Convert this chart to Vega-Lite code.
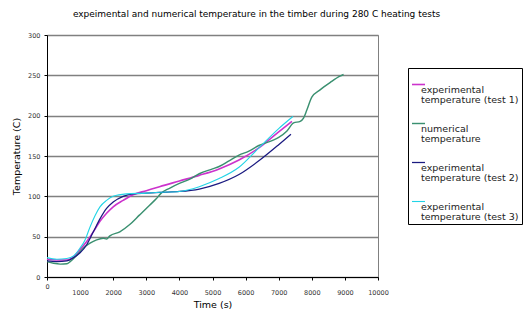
{
  "$schema": "https://vega.github.io/schema/vega-lite/v6.json",
  "width": 331,
  "height": 242,
  "autosize": {"type": "none"},
  "padding": {"left": 47, "top": 35, "right": 153, "bottom": 34},
  "background": "white",
  "title": {
    "text": "expeimental and numerical temperature in the timber during 280 C heating tests",
    "font": "DejaVu Sans",
    "fontSize": 9,
    "fontWeight": "normal",
    "color": "black",
    "anchor": "middle",
    "frame": "group",
    "dx": 44,
    "offset": 13
  },
  "data": {
    "values": [
      {"s": "test 1", "t": 0, "T": 22}, {"s": "test 1", "t": 300, "T": 21}, {"s": "test 1", "t": 600, "T": 21},
      {"s": "test 1", "t": 800, "T": 25}, {"s": "test 1", "t": 1000, "T": 34}, {"s": "test 1", "t": 1200, "T": 44},
      {"s": "test 1", "t": 1400, "T": 56}, {"s": "test 1", "t": 1600, "T": 69}, {"s": "test 1", "t": 1800, "T": 79},
      {"s": "test 1", "t": 2000, "T": 87}, {"s": "test 1", "t": 2300, "T": 95}, {"s": "test 1", "t": 2600, "T": 102},
      {"s": "test 1", "t": 3000, "T": 107}, {"s": "test 1", "t": 3400, "T": 112}, {"s": "test 1", "t": 4000, "T": 119},
      {"s": "test 1", "t": 4600, "T": 126}, {"s": "test 1", "t": 5200, "T": 134}, {"s": "test 1", "t": 5800, "T": 145},
      {"s": "test 1", "t": 6400, "T": 160}, {"s": "test 1", "t": 7000, "T": 180}, {"s": "test 1", "t": 7400, "T": 193},

      {"s": "numerical", "t": 0, "T": 19}, {"s": "numerical", "t": 200, "T": 17}, {"s": "numerical", "t": 400, "T": 16},
      {"s": "numerical", "t": 600, "T": 16.5}, {"s": "numerical", "t": 700, "T": 19}, {"s": "numerical", "t": 900, "T": 27},
      {"s": "numerical", "t": 1100, "T": 36}, {"s": "numerical", "t": 1300, "T": 42}, {"s": "numerical", "t": 1500, "T": 46},
      {"s": "numerical", "t": 1700, "T": 48}, {"s": "numerical", "t": 1800, "T": 47}, {"s": "numerical", "t": 1900, "T": 51},
      {"s": "numerical", "t": 2200, "T": 56}, {"s": "numerical", "t": 2500, "T": 65}, {"s": "numerical", "t": 2800, "T": 77},
      {"s": "numerical", "t": 3100, "T": 89}, {"s": "numerical", "t": 3300, "T": 97}, {"s": "numerical", "t": 3450, "T": 104},
      {"s": "numerical", "t": 3700, "T": 110}, {"s": "numerical", "t": 4000, "T": 116}, {"s": "numerical", "t": 4300, "T": 121},
      {"s": "numerical", "t": 4600, "T": 128}, {"s": "numerical", "t": 5000, "T": 134}, {"s": "numerical", "t": 5200, "T": 137},
      {"s": "numerical", "t": 5500, "T": 144}, {"s": "numerical", "t": 5800, "T": 151}, {"s": "numerical", "t": 6100, "T": 156},
      {"s": "numerical", "t": 6400, "T": 163}, {"s": "numerical", "t": 6800, "T": 169}, {"s": "numerical", "t": 7000, "T": 173},
      {"s": "numerical", "t": 7250, "T": 181}, {"s": "numerical", "t": 7450, "T": 191}, {"s": "numerical", "t": 7650, "T": 193},
      {"s": "numerical", "t": 7750, "T": 197}, {"s": "numerical", "t": 7850, "T": 207}, {"s": "numerical", "t": 8000, "T": 223},
      {"s": "numerical", "t": 8250, "T": 232}, {"s": "numerical", "t": 8550, "T": 241}, {"s": "numerical", "t": 8850, "T": 249},
      {"s": "numerical", "t": 8960, "T": 251},

      {"s": "test 2", "t": 0, "T": 20}, {"s": "test 2", "t": 300, "T": 19}, {"s": "test 2", "t": 600, "T": 20},
      {"s": "test 2", "t": 800, "T": 24}, {"s": "test 2", "t": 1000, "T": 30}, {"s": "test 2", "t": 1200, "T": 40},
      {"s": "test 2", "t": 1400, "T": 56}, {"s": "test 2", "t": 1600, "T": 72}, {"s": "test 2", "t": 1800, "T": 85},
      {"s": "test 2", "t": 2000, "T": 93}, {"s": "test 2", "t": 2300, "T": 100}, {"s": "test 2", "t": 2600, "T": 103},
      {"s": "test 2", "t": 3000, "T": 104}, {"s": "test 2", "t": 3400, "T": 105}, {"s": "test 2", "t": 4000, "T": 106},
      {"s": "test 2", "t": 4600, "T": 109}, {"s": "test 2", "t": 5200, "T": 116}, {"s": "test 2", "t": 5800, "T": 127},
      {"s": "test 2", "t": 6400, "T": 144}, {"s": "test 2", "t": 7000, "T": 164}, {"s": "test 2", "t": 7370, "T": 177},

      {"s": "test 3", "t": 0, "T": 24}, {"s": "test 3", "t": 300, "T": 22}, {"s": "test 3", "t": 600, "T": 23},
      {"s": "test 3", "t": 800, "T": 26}, {"s": "test 3", "t": 1000, "T": 36}, {"s": "test 3", "t": 1150, "T": 46},
      {"s": "test 3", "t": 1300, "T": 62}, {"s": "test 3", "t": 1450, "T": 76}, {"s": "test 3", "t": 1600, "T": 87},
      {"s": "test 3", "t": 1800, "T": 95}, {"s": "test 3", "t": 2000, "T": 100}, {"s": "test 3", "t": 2400, "T": 103},
      {"s": "test 3", "t": 3000, "T": 104}, {"s": "test 3", "t": 3400, "T": 105}, {"s": "test 3", "t": 4000, "T": 106},
      {"s": "test 3", "t": 4600, "T": 112}, {"s": "test 3", "t": 5200, "T": 122}, {"s": "test 3", "t": 5800, "T": 136},
      {"s": "test 3", "t": 6400, "T": 160}, {"s": "test 3", "t": 7000, "T": 184}, {"s": "test 3", "t": 7430, "T": 199}
    ]
  },
  "mark": {"type": "line", "interpolate": "monotone"},
  "encoding": {
    "x": {
      "field": "t", "type": "quantitative",
      "scale": {"domain": [0, 10000], "nice": false},
      "axis": {
        "title": "Time (s)",
        "values": [0, 1000, 2000, 3000, 4000, 5000, 6000, 7000, 8000, 9000, 10000],
        "format": "d",
        "grid": false,
        "labelExpr": "datum.value == 0 ? '0' : ['', datum.label]",
        "labelLineHeight": 6,
        "labelBaseline": "top",
        "labelPadding": 3,
        "labelFlush": false,
        "titlePadding": 4
      }
    },
    "y": {
      "field": "T", "type": "quantitative",
      "scale": {"domain": [0, 300], "nice": false},
      "axis": {
        "title": "Temperature (C)",
        "values": [0, 50, 100, 150, 200, 250, 300],
        "grid": true,
        "gridColor": "#808080",
        "gridWidth": 1.5,
        "labelPadding": 4,
        "titlePadding": 6
      }
    },
    "color": {
      "field": "s", "type": "nominal",
      "scale": {
        "domain": ["test 1", "numerical", "test 2", "test 3"],
        "range": ["#cc33cc", "#3a9070", "#1a1a80", "#22d4e6"]
      },
      "legend": {
        "orient": "none",
        "legendX": 361,
        "legendY": 33,
        "title": "\u00a0",
        "titleFontSize": 1,
        "titlePadding": 5,
        "symbolType": "stroke",
        "symbolSize": 169,
        "symbolStrokeWidth": 1.5,
        "labelFont": "DejaVu Sans",
        "labelFontSize": 9.5,
        "labelColor": "#222",
        "labelBaseline": "top",
        "labelOffset": -5,
        "labelLimit": 200,
        "labelExpr": "datum.label == 'numerical' ? ['numerical', 'temperature'] : ['experimental', 'temperature (' + datum.label + ')']",
        "strokeColor": "black",
        "padding": 3,
        "rowPadding": 12
      }
    },
    "strokeWidth": {
      "field": "s", "type": "nominal",
      "scale": {"domain": ["test 1", "numerical", "test 2", "test 3"], "range": [1.6, 1.1, 1.6, 1.6]},
      "legend": null
    }
  },
  "config": {
    "view": {"stroke": "#808080", "strokeWidth": 1},
    "style": {"guide-label": {"lineHeight": 10}},
    "axis": {
      "domainColor": "black",
      "domainWidth": 1,
      "tickColor": "black",
      "tickSize": 3,
      "labelFont": "DejaVu Sans",
      "labelFontSize": 6.5,
      "labelColor": "#333",
      "titleFont": "DejaVu Sans",
      "titleFontSize": 9.5,
      "titleFontWeight": "normal",
      "titleColor": "black"
    }
  }
}
